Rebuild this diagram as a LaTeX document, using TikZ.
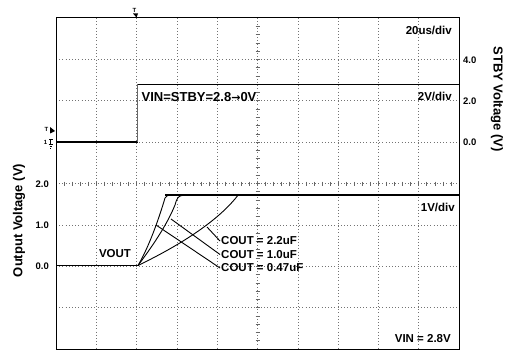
\documentclass[tikz,border=0pt]{standalone}
\usepackage{fontspec}
\setmainfont{Liberation Sans}
\newfontfamily\arrowfont{DejaVu Sans}

\tikzset{
  gridline/.style={black!55,line width=0.6pt,dash pattern=on 0.8pt off 2.4pt},
  tickmark/.style={black!60,line width=0.6pt},
  trace/.style={black,line width=1.6pt},
  rise/.style={black,line width=0.9pt},
}

\begin{document}
\begin{tikzpicture}[x=1pt,y=-1pt]
\useasboundingbox (0,0) rectangle (511,350);
% graticule
\foreach \i in {1,...,9}
    \draw[gridline] (56+40.3*\i,18) -- (56+40.3*\i,349);
\foreach \j in {1,...,7}
    \draw[gridline] (56,18+41.375*\j) -- (459,18+41.375*\j);
\foreach \k in {1,...,49}
    \draw[tickmark] (56+8.06*\k,181.5) -- (56+8.06*\k,185.5);
\foreach \k in {1,...,39}
    \draw[tickmark] (255.5,18+8.275*\k) -- (259.5,18+8.275*\k);
\draw[line width=1pt] (56,18) rectangle (459,349);
% STBY trace
\draw[trace] (56.5,142) -- (137.5,142);
\draw[black!60,line width=0.8pt] (137.5,142) -- (137.5,84.5);
\draw[trace] (137.5,84.5) -- (458.5,84.5);
% VOUT traces
\draw[trace] (56.5,265.5) -- (138,265.5);
\draw[rise] (138,265.5) .. controls (150,245) and (160,215) .. (165,198)
    .. controls (166,195.5) and (168,195.2) .. (172,195.2);
\draw[rise] (138,265.5) .. controls (157,240) and (168,222) .. (175,205)
    .. controls (177,198) and (178,195.5) .. (184,195.2);
\draw[rise] (138,265.5) .. controls (170,250) and (215,225) .. (238,195.2);
\draw[trace] (165,195.2) -- (458.5,195.2);
% markers
\begin{scope}[every node/.style={font=\bfseries\fontsize{6}{6}\selectfont,inner sep=0pt}]
    \node (mtop) at (134.5,10.5) {T};
    \node (mtrg) at (46.5,129.5) {T};
    \node (mgnd) at (45.5,142) {1};
\end{scope}
\fill (133,13.5) -- (138,13.5) -- (136.5,17.5) -- cycle;
\fill (50,127) -- (55,131) -- (50,133.5) -- cycle;
\draw[line width=0.6pt] (49,139.5) -- (52.5,139.5) (50.7,139.5) -- (50.7,144)
    (48.5,144) -- (53,144) (49.5,146) -- (52,146) (50.3,148) -- (51.2,148);
% labels
\begin{scope}[every node/.style={font=\bfseries\fontsize{11.5}{13}\selectfont,inner sep=0pt}]
    \node[anchor=east] (tdiv) at (452,30) {20us/div};
    \node[anchor=east] (sdiv) at (452,96.5) {2V/div};
    \node[anchor=east] (vdiv) at (455,207) {1V/div};
    \node[anchor=east] (vin) at (451,339) {VIN = 2.8V};
    \node (vout) at (115,254) {VOUT};
    \node[anchor=west] (c22) at (221,241) {COUT = 2.2uF};
    \node[anchor=west] (c10) at (221,254.5) {COUT = 1.0uF};
    \node[anchor=west] (c47) at (221,268) {COUT = 0.47uF};
    \node[anchor=west,font=\bfseries\fontsize{13}{15}\selectfont] (stby) at (141.5,97)
        {VIN=STBY=2.8{\arrowfont\fontsize{11}{13}\selectfont →}0V};
\end{scope}
\begin{scope}[every node/.style={font=\bfseries\fontsize{9.5}{11}\selectfont,inner sep=0pt}]
    \node[anchor=west] (r40) at (463,60) {4.0};
    \node[anchor=west] (r20) at (463,101) {2.0};
    \node[anchor=west] (r00) at (463,142) {0.0};
    \node[anchor=east] (l20) at (49,184) {2.0};
    \node[anchor=east] (l10) at (49,225) {1.0};
    \node[anchor=east] (l00) at (49,266) {0.0};
\end{scope}
\begin{scope}[every node/.style={font=\bfseries\fontsize{13}{15}\selectfont,inner sep=0pt}]
    \node[rotate=90] (yout) at (19,220.5) {Output Voltage (V)};
    \node[rotate=-90] (ystby) at (497,99) {STBY Voltage (V)};
\end{scope}
% leaders
\coordinate (p22) at (207,227);
\coordinate (p10) at (171,219);
\coordinate (p47) at (156,225);
\begin{scope}[every edge/.style={draw=black,line width=0.9pt}]
    \path [-] (p22) edge ([xshift=-1pt]c22.west);
    \path [-] (p10) edge ([xshift=-1pt]c10.west);
    \path [-] (p47) edge ([xshift=-1pt]c47.west);
\end{scope}
\end{tikzpicture}
\end{document}
